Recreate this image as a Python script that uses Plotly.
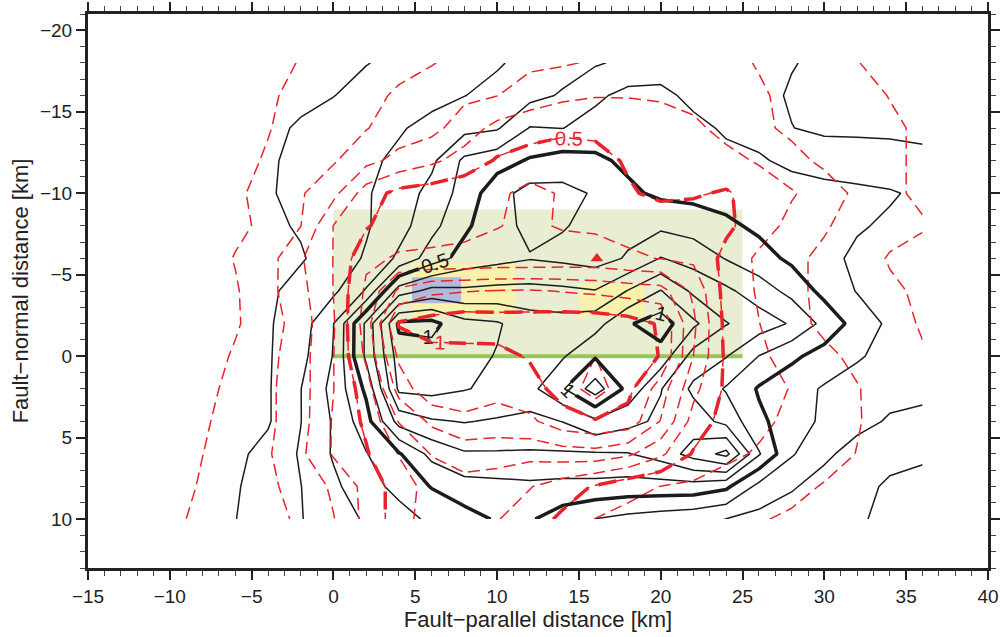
import plotly.graph_objects as go

# grid (km)
x_km = [-10, -8, -6, -4, -2, 0, 2, 4, 6, 8, 10, 12, 14, 16, 18, 20, 22, 24, 26, 28, 30, 32, 34, 36]
y_km = [-18, -16, -14, -12, -10, -8, -6, -4, -2, 0, 2, 4, 6, 8, 10]

# black (solid) field, rows follow y_km
black_z = [
    [0, 0, 0, 0.02, 0.05, 0.08, 0.097, 0.12, 0.14, 0.16, 0.19, 0.23, 0.26, 0.29, 0.32, 0.36, 0.34, 0.33, 0.32, 0.305, 0.28, 0.27, 0.26, 0.25],
    [0, 0, 0.02, 0.05, 0.08, 0.098, 0.13, 0.15, 0.17, 0.198, 0.23, 0.27, 0.31, 0.38, 0.43, 0.42, 0.38, 0.35, 0.33, 0.29, 0.27, 0.26, 0.26, 0.26],
    [0, 0.02, 0.05, 0.08, 0.11, 0.14, 0.17, 0.19, 0.23, 0.27, 0.29, 0.405, 0.398, 0.44, 0.47, 0.46, 0.42, 0.39, 0.37, 0.302, 0.28, 0.28, 0.285, 0.29],
    [0, 0.03, 0.06, 0.09, 0.12, 0.15, 0.18, 0.22, 0.28, 0.42, 0.46, 0.51, 0.54, 0.52, 0.48, 0.46, 0.44, 0.42, 0.41, 0.38, 0.36, 0.35, 0.33, 0.31],
    [0, 0.03, 0.06, 0.09, 0.13, 0.16, 0.19, 0.25, 0.33, 0.44, 0.56, 0.64, 0.63, 0.59, 0.52, 0.48, 0.47, 0.46, 0.45, 0.44, 0.43, 0.42, 0.41, 0.38],
    [0, 0.02, 0.05, 0.08, 0.11, 0.15, 0.19, 0.26, 0.37, 0.48, 0.57, 0.62, 0.605, 0.58, 0.57, 0.58, 0.56, 0.52, 0.48, 0.46, 0.44, 0.41, 0.385, 0.37],
    [0, 0.01, 0.03, 0.06, 0.09, 0.15, 0.21, 0.32, 0.45, 0.54, 0.57, 0.595, 0.58, 0.56, 0.61, 0.705, 0.66, 0.595, 0.54, 0.48, 0.43, 0.38, 0.37, 0.37],
    [0, 0.01, 0.02, 0.08, 0.14, 0.18, 0.31, 0.65, 0.73, 0.72, 0.73, 0.73, 0.72, 0.705, 0.805, 0.905, 0.78, 0.72, 0.65, 0.57, 0.47, 0.395, 0.37, 0.37],
    [0, 0, 0.03, 0.09, 0.15, 0.298, 0.62, 1.02, 1.03, 0.93, 0.91, 0.85, 0.84, 0.86, 0.99, 1.05, 0.92, 0.805, 0.75, 0.69, 0.57, 0.46, 0.38, 0.36],
    [0, 0, 0.02, 0.09, 0.17, 0.305, 0.62, 0.95, 0.96, 0.93, 0.895, 0.87, 0.89, 0.99, 0.95, 0.96, 0.76, 0.705, 0.598, 0.52, 0.46, 0.41, 0.37, 0.36],
    [0, 0, 0.02, 0.09, 0.198, 0.33, 0.52, 0.92, 0.93, 0.905, 0.88, 0.87, 0.99, 1.15, 0.97, 0.805, 0.68, 0.59, 0.49, 0.44, 0.39, 0.36, 0.33, 0.31],
    [0, 0, 0.03, 0.09, 0.198, 0.31, 0.46, 0.74, 0.79, 0.805, 0.79, 0.77, 0.802, 0.88, 0.83, 0.78, 0.75, 0.67, 0.52, 0.45, 0.38, 0.33, 0.29, 0.29],
    [0, 0.02, 0.08, 0.13, 0.21, 0.31, 0.395, 0.49, 0.63, 0.69, 0.69, 0.69, 0.69, 0.69, 0.695, 0.74, 0.84, 0.93, 0.61, 0.41, 0.32, 0.26, 0.22, 0.21],
    [0, 0.03, 0.09, 0.15, 0.198, 0.28, 0.36, 0.43, 0.505, 0.56, 0.57, 0.58, 0.57, 0.57, 0.56, 0.56, 0.56, 0.52, 0.37, 0.31, 0.26, 0.22, 0.19, 0.18],
    [0, 0.05, 0.098, 0.15, 0.195, 0.26, 0.31, 0.36, 0.42, 0.46, 0.51, 0.51, 0.45, 0.398, 0.37, 0.35, 0.33, 0.298, 0.27, 0.25, 0.23, 0.21, 0.18, 0.17],
]

# red (dashed) field, rows follow y_km
red_z = [
    [0, 0, 0.02, 0.07, 0.105, 0.12, 0.15, 0.18, 0.195, 0.23, 0.26, 0.28, 0.29, 0.31, 0.33, 0.35, 0.34, 0.32, 0.295, 0.26, 0.235, 0.202, 0.18, 0.16],
    [0, 0.01, 0.04, 0.09, 0.12, 0.15, 0.18, 0.21, 0.25, 0.28, 0.298, 0.35, 0.38, 0.395, 0.395, 0.39, 0.37, 0.34, 0.31, 0.28, 0.25, 0.22, 0.198, 0.18],
    [0, 0.02, 0.05, 0.095, 0.14, 0.17, 0.195, 0.25, 0.27, 0.35, 0.43, 0.46, 0.48, 0.48, 0.46, 0.44, 0.42, 0.37, 0.32, 0.28, 0.25, 0.23, 0.21, 0.19],
    [0, 0.02, 0.07, 0.11, 0.14, 0.19, 0.27, 0.33, 0.38, 0.44, 0.51, 0.54, 0.55, 0.53, 0.49, 0.47, 0.45, 0.43, 0.39, 0.33, 0.28, 0.24, 0.21, 0.19],
    [0, 0.03, 0.085, 0.13, 0.19, 0.27, 0.45, 0.53, 0.55, 0.57, 0.58, 0.63, 0.59, 0.55, 0.51, 0.48, 0.49, 0.51, 0.46, 0.41, 0.35, 0.28, 0.21, 0.19],
    [0, 0.03, 0.08, 0.12, 0.198, 0.402, 0.49, 0.56, 0.58, 0.59, 0.598, 0.61, 0.595, 0.59, 0.58, 0.56, 0.55, 0.52, 0.45, 0.37, 0.31, 0.26, 0.22, 0.205],
    [0, 0.05, 0.105, 0.16, 0.29, 0.402, 0.58, 0.61, 0.61, 0.61, 0.62, 0.62, 0.63, 0.63, 0.61, 0.598, 0.58, 0.47, 0.38, 0.32, 0.28, 0.23, 0.195, 0.18],
    [0, 0.05, 0.09, 0.17, 0.27, 0.402, 0.62, 0.82, 0.88, 0.895, 0.905, 0.91, 0.895, 0.88, 0.86, 0.84, 0.68, 0.46, 0.39, 0.32, 0.28, 0.25, 0.21, 0.19],
    [0, 0.05, 0.09, 0.15, 0.25, 0.39, 0.65, 1.01, 1.04, 1.06, 1.05, 1.05, 1.06, 1.06, 1.04, 0.99, 0.72, 0.47, 0.402, 0.33, 0.28, 0.25, 0.22, 0.195],
    [0, 0.06, 0.11, 0.17, 0.26, 0.398, 0.62, 0.92, 0.97, 0.96, 0.97, 1.01, 1.06, 1.1, 1.06, 0.995, 0.7, 0.48, 0.42, 0.36, 0.32, 0.28, 0.24, 0.205],
    [0.02, 0.08, 0.12, 0.18, 0.26, 0.398, 0.55, 0.84, 0.98, 0.95, 0.93, 0.96, 1.04, 1.15, 1.03, 0.85, 0.63, 0.48, 0.44, 0.395, 0.34, 0.305, 0.26, 0.21],
    [0.03, 0.09, 0.13, 0.18, 0.26, 0.41, 0.52, 0.705, 0.82, 0.88, 0.86, 0.88, 0.96, 0.99, 0.96, 0.795, 0.56, 0.46, 0.42, 0.38, 0.33, 0.305, 0.27, 0.24],
    [0.04, 0.099, 0.14, 0.19, 0.28, 0.41, 0.49, 0.605, 0.705, 0.74, 0.74, 0.73, 0.75, 0.76, 0.72, 0.62, 0.49, 0.42, 0.39, 0.36, 0.33, 0.298, 0.27, 0.24],
    [0.06, 0.11, 0.15, 0.19, 0.22, 0.32, 0.43, 0.55, 0.64, 0.67, 0.65, 0.605, 0.55, 0.49, 0.43, 0.398, 0.38, 0.36, 0.34, 0.32, 0.295, 0.29, 0.27, 0.25],
    [0.08, 0.12, 0.15, 0.18, 0.21, 0.295, 0.43, 0.55, 0.66, 0.68, 0.605, 0.55, 0.48, 0.398, 0.37, 0.35, 0.33, 0.32, 0.305, 0.29, 0.28, 0.27, 0.26, 0.25],
]

# overlay regions (km)
olive_box = dict(x0=0, x1=25, y0=-9, y1=0)
yellow_boxes = [dict(x0=4.8, x1=11.1, y0=-5.7, y1=-2.45), dict(x0=15.0, x1=19.0, y0=-4.4, y1=-2.4)]
blue_box = dict(x0=4.8, x1=7.8, y0=-4.85, y1=-3.25)
fault_trace = dict(x0=0, x1=25, y=0)
marker_x = [16.1]
marker_y = [-6.0]

BLACK = "#1c1c1c"
RED = "#e8232b"
FONT = "Liberation Sans, Arial, Helvetica, sans-serif"

fig = go.Figure()


def add_contour(z, color, width, dash, start, end, size, labels):
    fig.add_trace(go.Contour(
        x=x_km, y=y_km, z=z,
        autocontour=False,
        contours=dict(coloring="none", start=start, end=end, size=size,
                      showlabels=labels,
                      labelfont=dict(color=color, size=20, family=FONT),
                      labelformat=".2~g"),
        line=dict(color=color, width=width, dash=dash, smoothing=0),
        showscale=False, hoverinfo="skip",
    ))


add_contour(black_z, BLACK, 1.5, "solid", 0.1, 1.2, 0.1, False)
add_contour(red_z, RED, 1.5, "12px,6px", 0.1, 1.2, 0.1, False)
add_contour(black_z, BLACK, 3.5, "solid", 0.5, 1.0, 0.5, True)
add_contour(red_z, RED, 3.5, "18px,11px", 0.5, 1.0, 0.5, True)

fig.add_trace(go.Scatter(x=marker_x, y=marker_y, mode="markers",
                         marker=dict(symbol="triangle-up", size=11, color=RED),
                         hoverinfo="skip", showlegend=False))

shapes = [dict(type="rect", xref="x", yref="y", layer="below", line=dict(width=0),
               fillcolor="rgb(233,238,210)", **olive_box)]
for b in yellow_boxes:
    shapes.append(dict(type="rect", xref="x", yref="y", layer="below", line=dict(width=0),
                       fillcolor="rgb(248,242,172)", **b))
shapes.append(dict(type="rect", xref="x", yref="y", layer="below", line=dict(width=0),
                   fillcolor="rgb(178,186,220)", **blue_box))
shapes.append(dict(type="line", xref="x", yref="y", layer="below",
                   x0=fault_trace["x0"], x1=fault_trace["x1"], y0=fault_trace["y"], y1=fault_trace["y"],
                   line=dict(color="rgb(152,198,88)", width=4)))

axis_common = dict(
    showline=True, linewidth=3, linecolor="#222", mirror="ticks",
    ticks="outside", ticklen=9, tickwidth=1.5, tickcolor="#222",
    dtick=5, tick0=0, showgrid=False, zeroline=False,
    minor=dict(dtick=1, ticklen=5, tickwidth=1.2, tickcolor="#444", ticks="outside"),
    tickfont=dict(family=FONT, size=19, color="#222"),
    automargin=False,
)

fig.update_layout(
    width=1002, height=637,
    margin=dict(l=88, r=14, t=14, b=69),
    paper_bgcolor="white", plot_bgcolor="white",
    showlegend=False,
    shapes=shapes,
    xaxis=dict(range=[-15, 40], title=dict(text="Fault−parallel distance [km]",
                                           font=dict(family=FONT, size=22, color="#222"), standoff=4),
               **axis_common),
    yaxis=dict(range=[13, -21], title=dict(text="Fault−normal distance [km]",
                                           font=dict(family=FONT, size=22, color="#222"), standoff=6),
               **axis_common),
)

fig.write_html("out.html")
